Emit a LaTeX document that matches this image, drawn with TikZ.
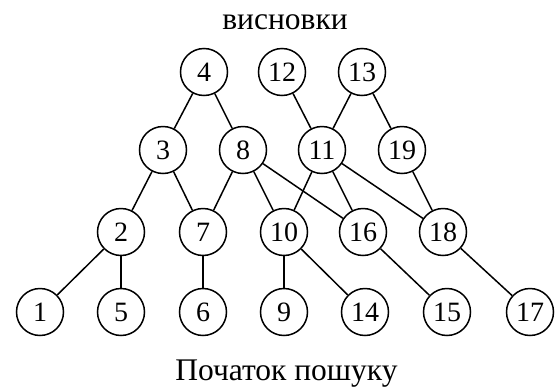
\documentclass[tikz,border=0pt]{standalone}
\usepackage{fontspec}
\setmainfont{Liberation Serif}
\begin{document}
\begin{tikzpicture}[x=1pt,y=-1pt,
  vert/.style={circle,draw,line width=1.5pt,minimum size=47pt,inner sep=0pt,font=\fontsize{28}{32}\selectfont},
  lbl/.style={font=\fontsize{31.5}{36}\selectfont,inner sep=0pt,anchor=base},
  edge/.style={line width=1.5pt}]
\useasboundingbox (0,0) rectangle (555,389);
\node[lbl] (top) at (285,29.3) {висновки};
\node[lbl] (bot) at (286.5,380) {Початок пошуку};
\node[vert] (n4) at (204,72) {4};
\node[vert] (n12) at (282,72) {12};
\node[vert] (n13) at (362,72) {13};
\node[vert] (n3) at (163,150) {3};
\node[vert] (n8) at (243,150) {8};
\node[vert] (n11) at (322,150) {11};
\node[vert] (n19) at (402,150) {19};
\node[vert] (n2) at (121,232) {2};
\node[vert] (n7) at (203,232) {7};
\node[vert] (n10) at (284,232) {10};
\node[vert] (n16) at (363,232) {16};
\node[vert] (n18) at (443,232) {18};
\node[vert] (n1) at (40,312) {1};
\node[vert] (n5) at (121,312) {5};
\node[vert] (n6) at (203,312) {6};
\node[vert] (n9) at (284,312) {9};
\node[vert] (n14) at (365,312) {14};
\node[vert] (n15) at (447,312) {15};
\node[vert] (n17) at (530,312) {17};
\foreach \a/\b in {n4/n3,n4/n8,n12/n11,n13/n11,n13/n19,n3/n2,n3/n7,n8/n7,n8/n10,n8/n16,n11/n10,n11/n16,n11/n18,n19/n18,n2/n1,n2/n5,n7/n6,n10/n9,n10/n14,n16/n15,n18/n17}
  \draw[edge] (\a) -- (\b);
\end{tikzpicture}
\end{document}
